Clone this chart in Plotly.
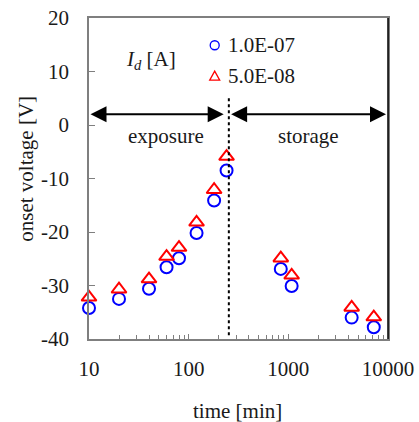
import plotly.graph_objects as go
import math

# data
time_min = [10, 20, 40, 60, 80, 120, 180, 240, 840, 1080, 4320, 7200]
v_1e7 = [-34.2, -32.5, -30.6, -26.6, -24.9, -20.2, -14.1, -8.5, -26.9, -30.1, -36.0, -37.8]
v_5e8 = [-32.2, -30.7, -28.8, -24.6, -22.9, -18.2, -12.1, -5.9, -24.9, -28.1, -34.1, -35.9]
series_names = ["1.0E-07", "5.0E-08"]
x_ticks = [10, 100, 1000, 10000]
x_ticktext = ["10", "100", "1000", "10000"]
y_ticks = [-40, -30, -20, -10, 0, 10, 20]
y_ticktext = ["-40", "-30", "-20", "-10", "0", "10", "20"]
boundary_min = 253
arrow_v = 2.0

FONT = "Liberation Serif, serif"
FS = 21
TXT = "#1a1a1a"
AX = "#7f7f7f"

L, R, T, B = 89.3, 388.3, 17.7, 339.3
def px(xp):
    return (xp - L) / (R - L)
def py(yp):
    return 1 - (yp - T) / (B - T)

fig = go.Figure()
fig.add_trace(go.Scatter(x=time_min, y=v_1e7, mode="markers", name=series_names[0],
                         cliponaxis=False,
                         marker=dict(symbol="circle-open", size=12, color="#0000ff",
                                     line=dict(width=2, color="#0000ff")), showlegend=False))
fig.add_trace(go.Scatter(x=time_min, y=v_5e8, mode="markers", name=series_names[1],
                         cliponaxis=False,
                         marker=dict(symbol="triangle-up-open", size=13, color="#ff0000",
                                     line=dict(width=2, color="#ff0000")), showlegend=False))

# dotted boundary line
fig.add_shape(type="line", xref="x", yref="y", x0=boundary_min, x1=boundary_min,
              y0=-39.3, y1=5.2, line=dict(color="black", width=2, dash="dot"))

# arrows
lb = math.log10(boundary_min)
for (a, b) in [(1.0, lb - 0.052), (lb + 0.008, 3.98)]:
    fig.add_annotation(x=b, y=arrow_v, ax=a, ay=arrow_v, xref="x", yref="y",
                       axref="x", ayref="y", text="", showarrow=True,
                       arrowhead=2, arrowside="end+start", arrowsize=1.6,
                       arrowwidth=2, arrowcolor="black", startarrowhead=2,
                       startarrowsize=1.6)

fig.add_annotation(x=math.log10(59.5), y=-2.0, xref="x", yref="y", text="exposure",
                   showarrow=False, xanchor="center", yanchor="middle",
                   font=dict(family=FONT, size=FS, color=TXT))
fig.add_annotation(x=math.log10(1580), y=-2.0, xref="x", yref="y", text="storage",
                   showarrow=False, xanchor="center", yanchor="middle",
                   font=dict(family=FONT, size=FS, color=TXT))
fig.add_annotation(x=px(151), y=py(60), xref="paper", yref="paper",
                   text="<i>I</i><sub><i>d</i></sub> [A]", showarrow=False,
                   xanchor="center", yanchor="middle",
                   font=dict(family=FONT, size=FS, color=TXT))

# legend (drawn)
for i, (nm, yy) in enumerate(zip(series_names, [45, 76])):
    if i == 0:
        fig.add_shape(type="circle", xref="paper", yref="paper", xsizemode="pixel",
                      ysizemode="pixel", xanchor=px(215), yanchor=py(yy), x0=-4.5, x1=4.5,
                      y0=-4.5, y1=4.5, line=dict(color="#0000ff", width=1.3))
    else:
        fig.add_shape(type="path", xref="paper", yref="paper", xsizemode="pixel",
                      ysizemode="pixel", xanchor=px(215), yanchor=py(yy),
                      path="M -5,-4 L 5,-4 L 0,5 Z", line=dict(color="#ff0000", width=1.3))
    fig.add_annotation(x=px(226), y=py(yy), xref="paper", yref="paper", text=nm,
                       xanchor="left", yanchor="middle", showarrow=False,
                       font=dict(family=FONT, size=FS, color=TXT))

# axis titles
fig.add_annotation(x=px(238), y=py(411), xref="paper", yref="paper",
                   text="time [min]", showarrow=False, xanchor="center", yanchor="middle",
                   font=dict(family=FONT, size=FS, color=TXT))
fig.add_annotation(x=px(26), y=py(169), xref="paper", yref="paper",
                   text="onset voltage [V]", textangle=-90, showarrow=False,
                   xanchor="center", yanchor="middle",
                   font=dict(family=FONT, size=FS, color=TXT))

# right black edge
fig.add_shape(type="line", xref="paper", yref="paper", x0=1, x1=1, y0=0, y1=1,
              line=dict(color="black", width=1.5))

fig.update_layout(
    template="none",
    width=419, height=422, margin=dict(l=89, r=31, t=18, b=83),
    font=dict(family=FONT, size=FS, color=TXT),
    plot_bgcolor="white", paper_bgcolor="white", showlegend=False,
    xaxis=dict(type="log", range=[1, 4], tickmode="array", tickvals=x_ticks, ticktext=x_ticktext,
               ticks="inside", ticklen=5, tickwidth=1, tickcolor=AX, showline=True, linecolor=AX,
               linewidth=1.5, mirror=True, showgrid=False, zeroline=False,
               ticklabelstandoff=10,
               minor=dict(ticks="inside", ticklen=4, tickwidth=1, tickcolor=AX, dtick="D1", showgrid=False),
               tickfont=dict(family=FONT, size=FS, color=TXT)),
    yaxis=dict(range=[-40, 20], tickmode="array", tickvals=y_ticks, ticktext=y_ticktext,
               ticks="inside", ticklen=6, tickwidth=1, tickcolor=AX, showline=True, linecolor=AX,
               linewidth=1.5, mirror=True, showgrid=False, zeroline=False,
               ticklabelstandoff=14,
               tickfont=dict(family=FONT, size=FS, color=TXT)),
)

fig.write_html("out.html")
